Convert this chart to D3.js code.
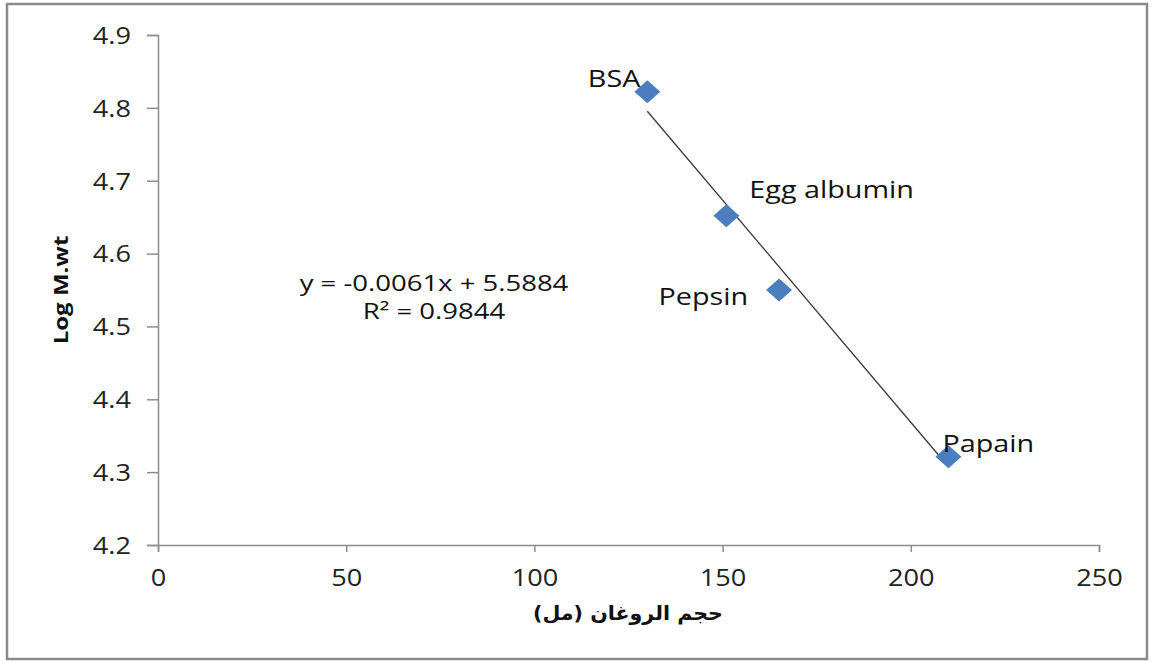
<!DOCTYPE html>
<html>
<head>
<meta charset="utf-8">
<script src="https://cdn.jsdelivr.net/npm/d3@7/dist/d3.min.js"></script>
<style>
  html, body { margin: 0; padding: 0; background: #fff; }
  svg { display: block; }
  .tick text { font-family: "Open Sans", sans-serif; font-size: 23px; fill: #222; }
</style>
</head>
<body>
<svg id="chart" width="1152" height="662"></svg>
<script>
// Protein standards: elution volume (ml) vs log molecular weight
const proteins = ["BSA", "Egg albumin", "Pepsin", "Papain"];
const elutionVolume = [130, 151, 165, 210];
const logMW = [4.822, 4.652, 4.55, 4.321];

// Linear fit reported for the standards
const slope = -0.0061;
const intercept = 5.5884;
const equationLines = ["y = -0.0061x + 5.5884", "R\u00b2 = 0.9844"];

const xTicks = [0, 50, 100, 150, 200, 250];
const yTicks = [4.2, 4.3, 4.4, 4.5, 4.6, 4.7, 4.8, 4.9];

const xTitle = "حجم الروغان (مل)";
const yTitle = "Log M.wt";

// Label placement around each marker: [dx, dy, anchor]
const labelPlacement = [[-7, -5, "end"], [23, -18, "start"], [-31, 15, "end"], [-6, -5, "start"]];

// Text in this chart is set slightly wide
const wideText = 1.25, wideTicks = 1.18;

const svg = d3.select("#chart");

// Outer frame
svg.append("rect")
  .attr("x", 7).attr("y", 4)
  .attr("width", 1140).attr("height", 655)
  .attr("fill", "#fff")
  .attr("stroke", "#8a8a8a")
  .attr("stroke-width", 2.5);

const plot = { left: 158, right: 1099, top: 35, bottom: 545 };

const x = d3.scaleLinear().domain([0, 250]).range([plot.left, plot.right]);
const y = d3.scaleLinear().domain([4.2, 4.9]).range([plot.bottom, plot.top]);

const axisColor = "#8c8c8c";

// Y axis
const yAxis = svg.append("g")
  .attr("transform", `translate(${plot.left},0)`)
  .call(d3.axisLeft(y).tickValues(yTicks).tickFormat(d3.format(".1f")).tickSize(11).tickPadding(16));
yAxis.select(".domain").attr("stroke", axisColor).attr("stroke-width", 1.5);
yAxis.selectAll(".tick line").attr("stroke", axisColor).attr("stroke-width", 1.5);
yAxis.selectAll(".tick text")
  .attr("x", 0).attr("dy", "0.36em")
  .attr("transform", `translate(-27,0) scale(${wideTicks},1)`);

// X axis
const xAxis = svg.append("g")
  .attr("transform", `translate(0,${plot.bottom})`)
  .call(d3.axisBottom(x).tickValues(xTicks).tickFormat(d3.format("d")).tickSize(7).tickPadding(18));
xAxis.select(".domain").attr("stroke", axisColor).attr("stroke-width", 1.5);
xAxis.selectAll(".tick line").attr("stroke", axisColor).attr("stroke-width", 1.5);
xAxis.selectAll(".tick text").attr("transform", `scale(${wideTicks},1)`);

// Axis titles
svg.append("text")
  .attr("transform", `translate(68,${(plot.top + plot.bottom) / 2}) rotate(-90) scale(1.2,1)`)
  .attr("text-anchor", "middle")
  .attr("font-family", "'Open Sans', sans-serif")
  .attr("font-weight", "bold")
  .attr("font-size", 20)
  .attr("fill", "#111")
  .text(yTitle);

svg.append("text")
  .attr("transform", "translate(628,620) scale(1.03,1)")
  .attr("text-anchor", "middle")
  .attr("direction", "rtl")
  .attr("font-family", "'DejaVu Sans', sans-serif")
  .attr("font-weight", "bold")
  .attr("font-size", 20)
  .attr("fill", "#111")
  .text(xTitle);

// Trendline over the range of the standards
const xMin = d3.min(elutionVolume), xMax = d3.max(elutionVolume);
svg.append("line")
  .attr("x1", x(xMin)).attr("y1", y(slope * xMin + intercept))
  .attr("x2", x(xMax)).attr("y2", y(slope * xMax + intercept))
  .attr("stroke", "#3a3a3a")
  .attr("stroke-width", 1.3);

// Diamond markers
const pts = proteins.map((name, i) => ({ name, vx: elutionVolume[i], vy: logMW[i], place: labelPlacement[i] }));
const hw = 13, hh = 11.5;
svg.append("g").selectAll("path")
  .data(pts)
  .join("path")
  .attr("transform", d => `translate(${x(d.vx)},${y(d.vy)})`)
  .attr("d", `M0,${-hh}L${hw},0L0,${hh}L${-hw},0Z`)
  .attr("fill", "#4a7ebf");

// Point labels
svg.append("g").selectAll("text")
  .data(pts)
  .join("text")
  .attr("transform", d => `translate(${x(d.vx) + d.place[0]},${y(d.vy) + d.place[1]}) scale(${wideText},1)`)
  .attr("text-anchor", d => d.place[2])
  .attr("font-family", "'Open Sans', sans-serif")
  .attr("font-size", 23)
  .attr("fill", "#111")
  .text(d => d.name);

// Regression equation
svg.append("g").selectAll("text")
  .data(equationLines)
  .join("text")
  .attr("transform", (d, i) => `translate(434,${291 + i * 28}) scale(${wideText},1)`)
  .attr("text-anchor", "middle")
  .attr("font-family", "'Open Sans', sans-serif")
  .attr("font-size", 22)
  .attr("fill", "#111")
  .text(d => d);
</script>
</body>
</html>
